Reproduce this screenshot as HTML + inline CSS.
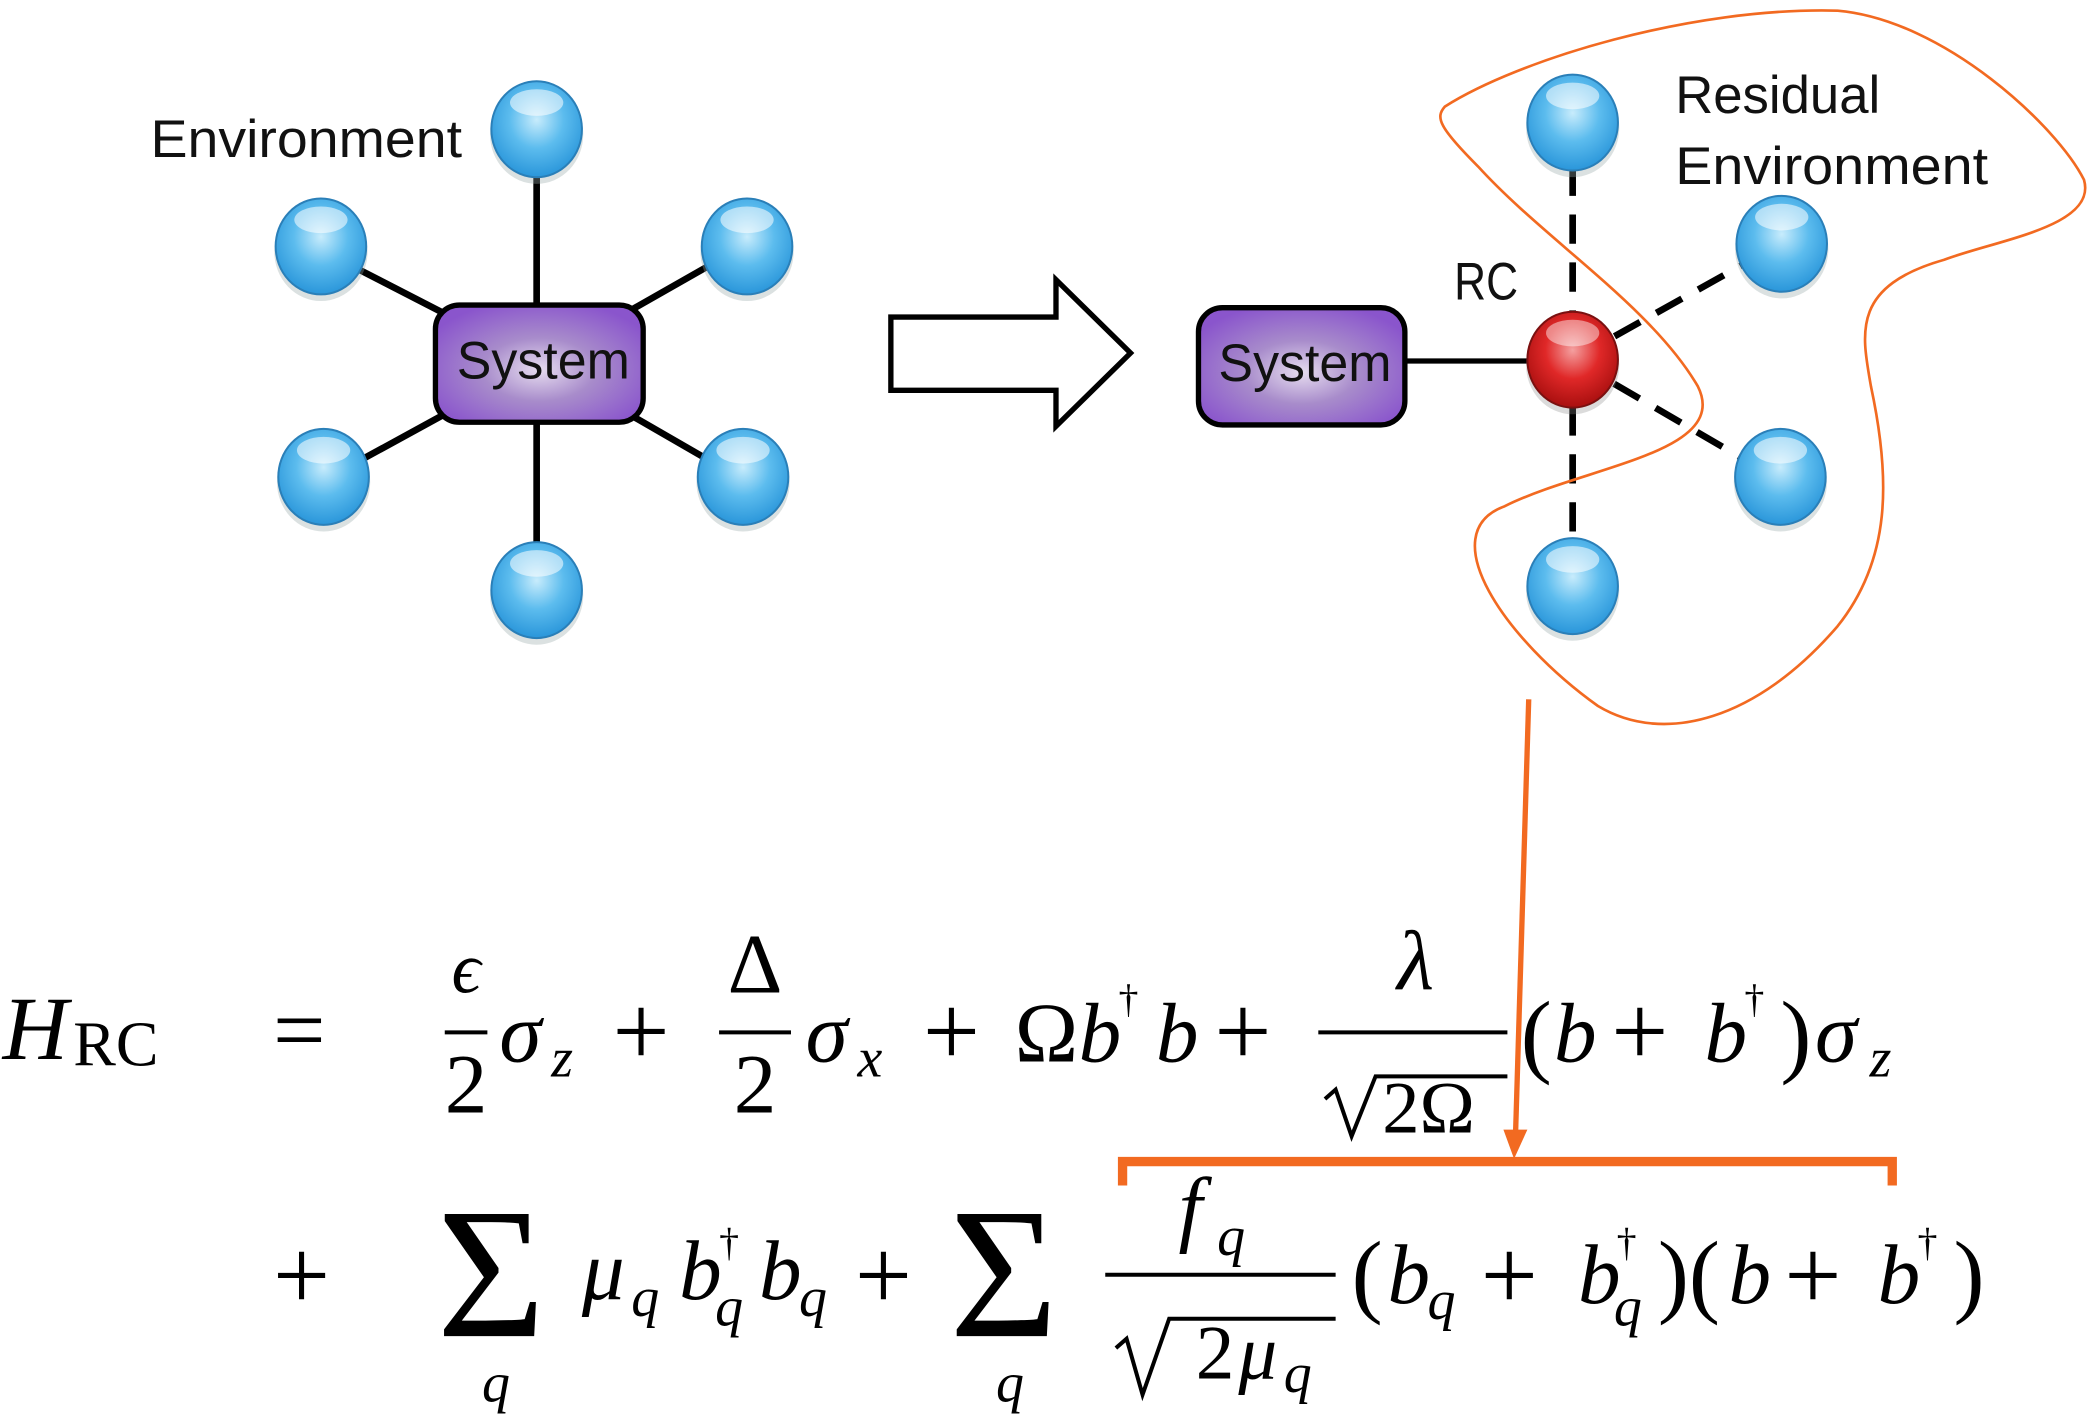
<!DOCTYPE html>
<html><head><meta charset="utf-8"><style>
html,body{margin:0;padding:0;background:#fff;}
svg{display:block;}
.lab{font-family:"Liberation Sans",sans-serif;font-size:40px;fill:#111;}
.m{font-family:"Liberation Serif",serif;font-style:italic;font-size:64px;fill:#000;}
.r{font-family:"Liberation Serif",serif;font-size:64px;fill:#000;}
.s{font-family:"Liberation Serif",serif;font-style:italic;font-size:42px;fill:#000;}
.d{font-family:"Liberation Serif",serif;font-size:30px;fill:#000;}
.p{font-family:"Liberation Serif",serif;font-size:76px;fill:#000;}
.b{font-family:"Liberation Serif",serif;font-size:70px;fill:#000;}
.S{font-family:"Liberation Serif",serif;font-size:140px;fill:#000;}
</style></head><body>
<svg width="2088" height="1416" viewBox="0 0 1568 1063" preserveAspectRatio="none" xmlns="http://www.w3.org/2000/svg">
<defs>
<radialGradient id="bl" cx="50%" cy="40%" r="60%">
<stop offset="0" stop-color="#c8ecfc"/><stop offset="0.5" stop-color="#5cbcee"/><stop offset="1" stop-color="#2a96da"/></radialGradient>
<radialGradient id="rd" cx="50%" cy="40%" r="60%">
<stop offset="0" stop-color="#f4a0a0"/><stop offset="0.5" stop-color="#e02828"/><stop offset="1" stop-color="#a80f0f"/></radialGradient>
<radialGradient id="pu" cx="50%" cy="55%" r="60%">
<stop offset="0" stop-color="#e6dcef"/><stop offset="0.45" stop-color="#a88ccb"/><stop offset="1" stop-color="#8a55cc"/></radialGradient>
<g id="ball"><ellipse cx="0" cy="4" rx="35" ry="37" fill="#9aa" opacity="0.35"/><ellipse cx="0" cy="0" rx="34" ry="36" fill="url(#bl)" stroke="#2a7fb8" stroke-width="1.5"/><ellipse cx="0" cy="-20" rx="20" ry="10" fill="#fff" opacity="0.55"/></g>
</defs>
<g stroke="#000" stroke-width="5">
<line x1="403" y1="125" x2="403" y2="420"/>
<line x1="265" y1="200" x2="405" y2="272"/>
<line x1="535" y1="198" x2="405" y2="272"/>
<line x1="268" y1="347" x2="405" y2="272"/>
<line x1="535" y1="347" x2="405" y2="272"/>
</g>
<rect x="327" y="229" width="156" height="88" rx="18" fill="url(#pu)" stroke="#000" stroke-width="4"/>
<text x="343" y="284" class="lab" textLength="130" lengthAdjust="spacingAndGlyphs">System</text>
<use href="#ball" x="403" y="97"/><use href="#ball" x="241" y="185"/><use href="#ball" x="561" y="185"/>
<use href="#ball" x="243" y="358"/><use href="#ball" x="558" y="358"/><use href="#ball" x="403" y="443"/>
<text x="113" y="118" class="lab" textLength="234" lengthAdjust="spacingAndGlyphs">Environment</text>
<polygon points="669,238 793,238 793,210 849,265 793,320 793,293 669,293" fill="#fff" stroke="#000" stroke-width="4"/>
<g stroke="#000" stroke-width="5" stroke-dasharray="22,14">
<line x1="1181" y1="125" x2="1181" y2="410"/>
<line x1="1181" y1="270" x2="1310" y2="198"/>
<line x1="1181" y1="270" x2="1310" y2="345"/>
</g>
<line x1="1055" y1="271" x2="1160" y2="271" stroke="#000" stroke-width="4"/>
<rect x="900" y="231" width="155" height="88" rx="18" fill="url(#pu)" stroke="#000" stroke-width="4"/>
<text x="915" y="286" class="lab" textLength="130" lengthAdjust="spacingAndGlyphs">System</text>
<use href="#ball" x="1181" y="92"/><use href="#ball" x="1338" y="183"/><use href="#ball" x="1337" y="358"/><use href="#ball" x="1181" y="440"/>
<ellipse cx="1181" cy="274" rx="35" ry="37" fill="#888" opacity="0.3"/>
<ellipse cx="1181" cy="270" rx="34" ry="36" fill="url(#rd)" stroke="#7a1010" stroke-width="1.5"/>
<ellipse cx="1181" cy="250" rx="20" ry="10" fill="#fff" opacity="0.45"/>
<text x="1092" y="225" class="lab" textLength="48" lengthAdjust="spacingAndGlyphs">RC</text>
<text x="1258" y="85" class="lab" textLength="154" lengthAdjust="spacingAndGlyphs">Residual</text>
<text x="1258" y="138" class="lab" textLength="235" lengthAdjust="spacingAndGlyphs">Environment</text>
<path d="M1085,80 C1140,45 1270,5 1380,8 C1460,15 1545,95 1565,135 C1575,170 1500,180 1460,195 C1390,215 1398,250 1405,290 C1420,360 1420,420 1380,470 C1320,540 1250,560 1200,530 C1130,480 1075,400 1130,380 C1190,350 1300,340 1275,290 C1240,230 1160,180 1110,125 C1080,95 1078,88 1085,80 Z" fill="none" stroke="#f26a21" stroke-width="2"/>
<line x1="1148" y1="525" x2="1138" y2="855" stroke="#f26a21" stroke-width="4"/>
<polygon points="1129,848 1147,848 1137,870" fill="#f26a21"/>
<path d="M843,890 L843,872 L1421,872 L1421,890" fill="none" stroke="#f26a21" stroke-width="7"/>
<!-- equation line 1 -->
<text x="2" y="795" class="m" style="font-size:68px">H</text><text x="55" y="800" class="r" style="font-size:48px">RC</text>
<text x="205" y="797" class="b">=</text>
<text x="350" y="745" class="m" text-anchor="middle" style="font-size:54px">ϵ</text>
<line x1="334" y1="775" x2="366" y2="775" stroke="#000" stroke-width="3"/>
<text x="350" y="835" class="r" text-anchor="middle">2</text>
<text x="375" y="797" class="m">σ</text><text x="414" y="808" class="s">z</text>
<text x="460" y="800" class="p">+</text>
<text x="567" y="745" class="r" text-anchor="middle">Δ</text>
<line x1="540" y1="775" x2="594" y2="775" stroke="#000" stroke-width="3"/>
<text x="567" y="835" class="r" text-anchor="middle">2</text>
<text x="605" y="797" class="m">σ</text><text x="644" y="808" class="s">x</text>
<text x="693" y="800" class="p">+</text>
<text x="762" y="797" class="r">Ω</text><text x="810" y="797" class="m">b</text><text x="840" y="760" class="d">†</text><text x="868" y="797" class="m">b</text>
<text x="912" y="800" class="p">+</text>
<text x="1063" y="743" class="m" text-anchor="middle">λ</text>
<line x1="990" y1="775" x2="1132" y2="775" stroke="#000" stroke-width="3"/>
<path d="M995,825 L1003,818 L1015,853 L1033,808 L1132,808" fill="none" stroke="#000" stroke-width="3"/>
<text x="1038" y="850" class="r" style="font-size:56px">2Ω</text>
<text x="1142" y="800" class="b">(</text><text x="1167" y="797" class="m">b</text>
<text x="1210" y="800" class="p">+</text><text x="1280" y="797" class="m">b</text><text x="1310" y="760" class="d">†</text>
<text x="1337" y="800" class="b">)</text><text x="1363" y="797" class="m">σ</text><text x="1404" y="808" class="s">z</text>
<!-- line 2 -->
<text x="205" y="983" class="p">+</text>
<text x="328" y="1003" class="S">Σ</text>
<text x="362" y="1052" class="s">q</text>
<text x="437" y="975" class="m">μ</text><text x="474" y="988" class="s">q</text>
<text x="510" y="975" class="m">b</text><text x="540" y="943" class="d">†</text><text x="537" y="995" class="s">q</text>
<text x="570" y="975" class="m">b</text><text x="600" y="988" class="s">q</text>
<text x="642" y="983" class="p">+</text>
<text x="713" y="1003" class="S">Σ</text>
<text x="748" y="1052" class="s">q</text>
<text x="885" y="928" class="m">f</text><text x="914" y="942" class="s">q</text>
<line x1="830" y1="957" x2="1003" y2="957" stroke="#000" stroke-width="3"/>
<path d="M838,1012 L846,1005 L858,1047 L878,990 L1003,990" fill="none" stroke="#000" stroke-width="3"/>
<text x="898" y="1035" class="r" style="font-size:58px">2</text><text x="930" y="1035" class="m" style="font-size:58px">μ</text><text x="964" y="1045" class="s">q</text>
<text x="1015" y="980" class="b">(</text><text x="1042" y="978" class="m">b</text><text x="1072" y="990" class="s">q</text>
<text x="1112" y="983" class="p">+</text><text x="1185" y="978" class="m">b</text><text x="1214" y="943" class="d">†</text><text x="1212" y="995" class="s">q</text>
<text x="1245" y="980" class="b">)(</text><text x="1298" y="978" class="m">b</text>
<text x="1340" y="983" class="p">+</text><text x="1410" y="978" class="m">b</text><text x="1440" y="943" class="d">†</text>
<text x="1467" y="980" class="b">)</text>
</svg>
</body></html>
